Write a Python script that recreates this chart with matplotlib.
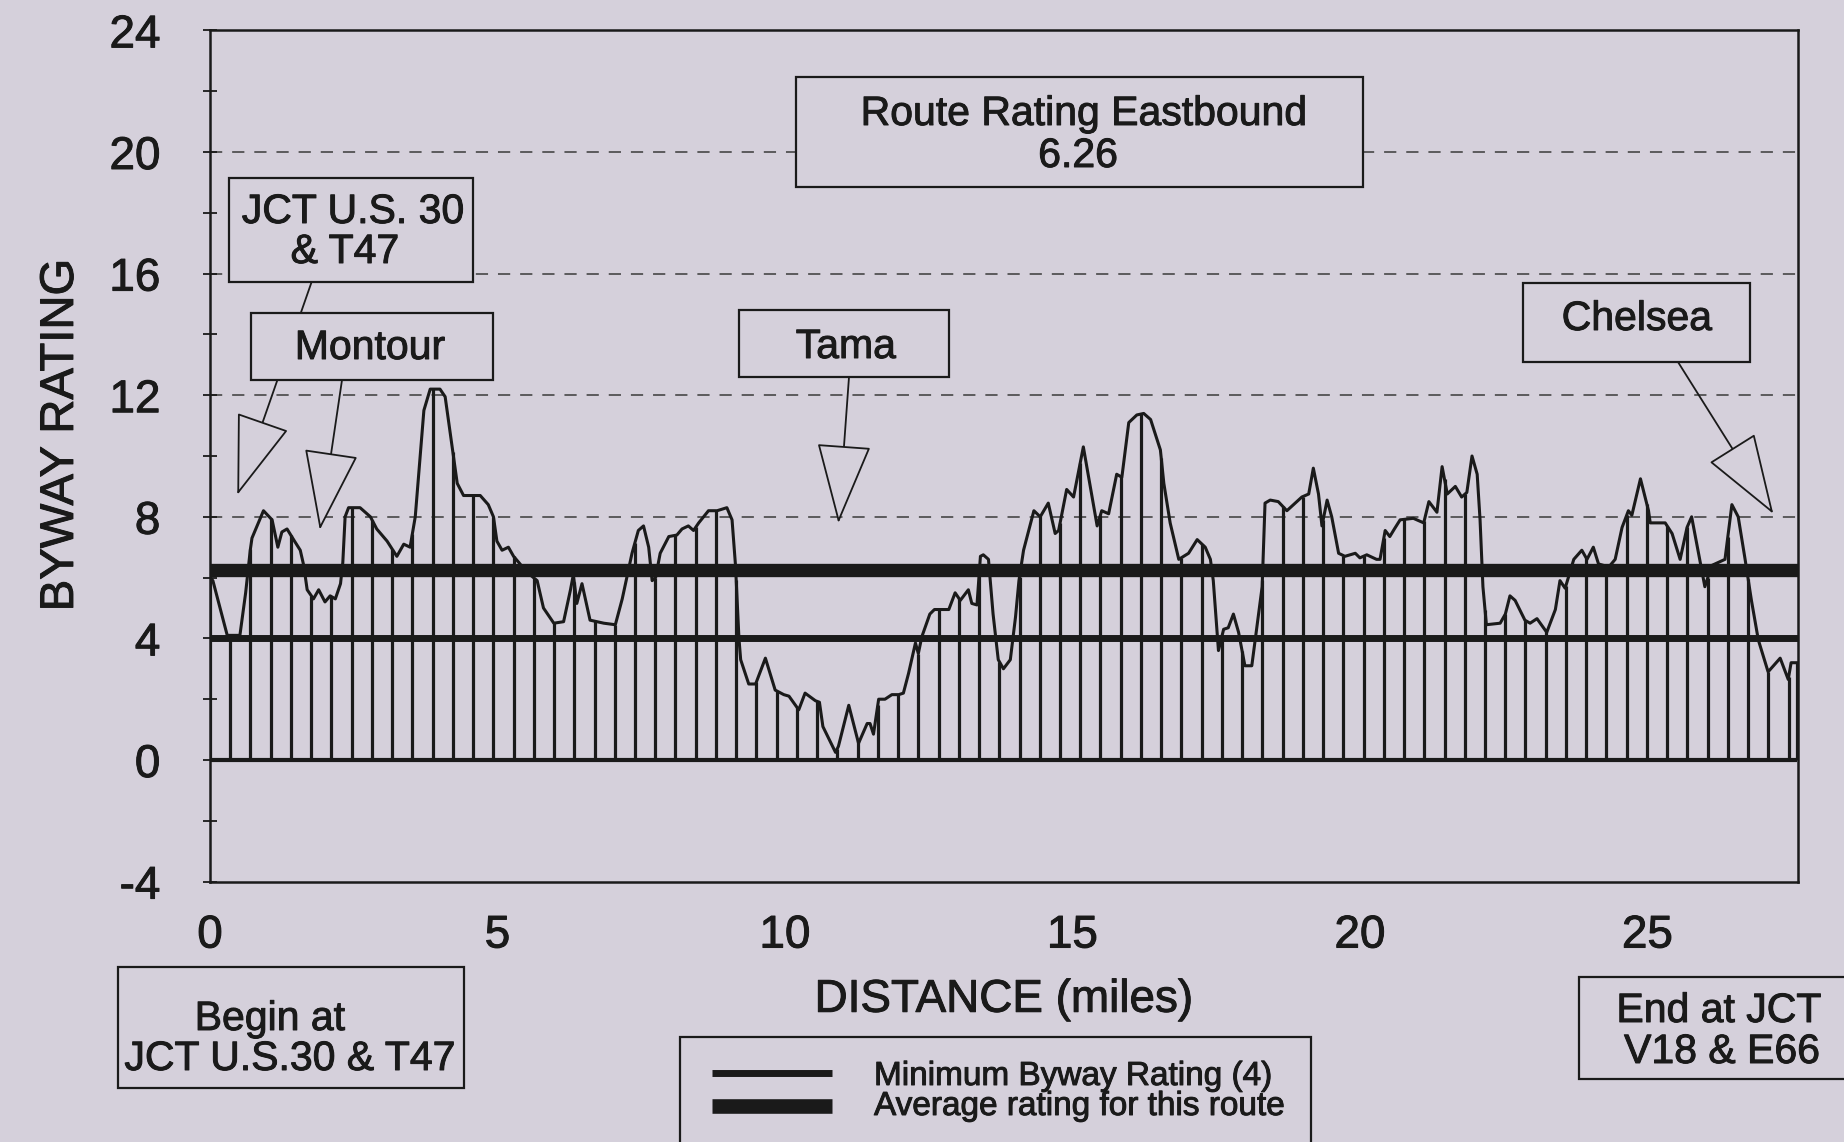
import numpy as np
import matplotlib
matplotlib.use("Agg")
import matplotlib.pyplot as plt
import matplotlib.patheffects as pe
from matplotlib.patches import Rectangle, ArrowStyle
from matplotlib.lines import Line2D

# ---------------- data ----------------
distance = [0.00, 0.05, 0.30, 0.52, 0.62, 0.70, 0.73, 0.93, 1.08, 1.18, 1.25, 1.34, 1.47, 1.57,
            1.63, 1.69, 1.80, 1.89, 2.00, 2.09, 2.18, 2.27, 2.31, 2.35, 2.41, 2.61, 2.79, 2.90,
            3.08, 3.25, 3.37, 3.48, 3.57, 3.72, 3.83, 4.00, 4.09, 4.24, 4.30, 4.41, 4.58, 4.70,
            4.84, 4.93, 4.99, 5.08, 5.19, 5.28, 5.37, 5.50, 5.69, 5.80, 5.98, 6.15, 6.27, 6.32,
            6.38, 6.47, 6.61, 6.85, 7.05, 7.17, 7.34, 7.45, 7.54, 7.63, 7.69, 7.75, 7.83, 7.98,
            8.12, 8.21, 8.32, 8.41, 8.50, 8.67, 8.82, 8.99, 9.08, 9.14, 9.20, 9.23, 9.37, 9.49,
            9.66, 9.83, 9.98, 10.07, 10.24, 10.35, 10.53, 10.60, 10.66, 10.88, 10.93, 11.11,
            11.28, 11.43, 11.48, 11.54, 11.63, 11.74, 11.86, 11.98, 12.06, 12.15, 12.27, 12.32,
            12.38, 12.52, 12.60, 12.85, 12.96, 13.05, 13.19, 13.25, 13.34, 13.40, 13.45, 13.54,
            13.62, 13.71, 13.80, 13.92, 14.01, 14.07, 14.15, 14.33, 14.44, 14.58, 14.70, 14.76,
            14.90, 15.02, 15.19, 15.30, 15.43, 15.51, 15.63, 15.77, 15.86, 15.98, 16.12, 16.24,
            16.36, 16.53, 16.59, 16.70, 16.85, 17.02, 17.17, 17.31, 17.40, 17.45, 17.54, 17.63,
            17.71, 17.80, 17.89, 18.00, 18.12, 18.21, 18.30, 18.35, 18.44, 18.58, 18.73, 18.99,
            19.11, 19.19, 19.28, 19.34, 19.43, 19.51, 19.63, 19.74, 19.92, 20.00, 20.12, 20.29,
            20.35, 20.44, 20.52, 20.60, 20.70, 20.93, 21.11, 21.20, 21.28, 21.34, 21.43, 21.52,
            21.66, 21.77, 21.86, 21.95, 22.04, 22.09, 22.14, 22.20, 22.44, 22.53, 22.61, 22.70,
            22.87, 22.96, 23.08, 23.25, 23.40, 23.48, 23.57, 23.72, 23.86, 23.95, 24.06, 24.15,
            24.33, 24.44, 24.56, 24.67, 24.73, 24.88, 25.02, 25.05, 25.31, 25.43, 25.57, 25.69,
            25.77, 25.86, 26.00, 26.12, 26.35, 26.47, 26.58, 26.70, 26.81, 26.93, 27.10, 27.31,
            27.45, 27.50, 27.60]
rating = [6.0, 5.9, 4.1, 4.1, 5.5, 6.9, 7.3, 8.2, 7.9, 7.0, 7.5, 7.6, 7.2, 6.9,
          6.4, 5.6, 5.3, 5.6, 5.2, 5.4, 5.3, 5.8, 6.5, 8.0, 8.3, 8.3, 8.0, 7.6,
          7.2, 6.7, 7.1, 7.0, 8.0, 11.5, 12.2, 12.2, 11.95, 9.9, 9.1, 8.7, 8.7, 8.7,
          8.4, 8.0, 7.2, 6.9, 7.0, 6.7, 6.5, 6.2, 5.9, 5.0, 4.5, 4.55, 5.6, 6.1,
          5.15, 5.8, 4.6, 4.5, 4.45, 5.3, 6.8, 7.55, 7.7, 7.0, 5.9, 6.0, 6.8, 7.35,
          7.4, 7.6, 7.7, 7.55, 7.8, 8.2, 8.2, 8.3, 7.9, 6.4, 4.0, 3.3, 2.5, 2.5,
          3.35, 2.3, 2.15, 2.1, 1.65, 2.2, 1.95, 1.9, 1.1, 0.25, 0.45, 1.8,
          0.55, 1.2, 1.2, 0.85, 2.0, 2.0, 2.15, 2.15, 2.2, 2.85, 3.85, 3.5,
          4.05, 4.8, 4.95, 4.95, 5.5, 5.25, 5.6, 5.15, 5.1, 6.7, 6.75, 6.6,
          4.8, 3.3, 3.0, 3.3, 4.7, 5.9, 6.9, 8.2, 8.0, 8.45, 7.45, 7.55,
          8.9, 8.65, 10.3, 9.1, 7.7, 8.2, 8.1, 9.4, 9.3, 11.1, 11.35, 11.4,
          11.2, 10.2, 9.1, 7.8, 6.6, 6.8, 7.25, 7.0, 6.6, 5.9, 3.6, 4.3,
          4.35, 4.8, 4.2, 3.1, 3.1, 4.4, 5.7, 8.45, 8.55, 8.5, 8.2, 8.65,
          8.75, 9.6, 8.75, 7.7, 8.55, 8.0, 6.8, 6.7, 6.8, 6.65, 6.75, 6.6,
          6.6, 7.55, 7.35, 7.6, 7.9, 7.95, 7.8, 8.5, 8.3, 8.15, 9.65, 8.75,
          9.0, 8.65, 8.8, 10.0, 9.4, 7.9, 5.7, 4.45, 4.5, 4.8, 5.4, 5.25,
          4.6, 4.5, 4.65, 4.2, 4.95, 5.9, 5.65, 6.6, 6.9, 6.6, 7.0, 6.45,
          6.35, 6.6, 7.65, 8.2, 8.05, 9.25, 8.2, 7.8, 7.8, 7.45, 6.6, 7.65,
          8.0, 7.1, 5.7, 6.4, 6.6, 8.4, 8.0, 6.6, 5.25, 3.95, 2.9, 3.35,
          2.65, 3.2, 3.2]
min_rating = 4
avg_rating = 6.26
x_ticks = [0, 5, 10, 15, 20, 25]
y_ticks = [-4, 0, 4, 8, 12, 16, 20, 24]
grid_levels = [8, 12, 16, 20]

# ---------------- style ----------------
W, H = 1844, 1142
BG = "#d5d0db"
INK = "#1a1a1a"
DROP_STEP = 0.352          # spacing of the vertical drop lines (miles)
plt.rcParams["font.family"] = ["Liberation Sans", "DejaVu Sans"]
plt.rcParams["axes.unicode_minus"] = False
HEAVY = [pe.withStroke(linewidth=0.7, foreground=INK)]

fig = plt.figure(figsize=(W / 100, H / 100), dpi=100, facecolor=BG)
ax_l, ax_r, ax_t, ax_b = 210, 1798, 30.4, 881.6
ax = fig.add_axes([ax_l / W, 1 - ax_b / H, (ax_r - ax_l) / W, (ax_b - ax_t) / H], facecolor=BG)
ax.set_xlim(0, 27.62)
ax.set_ylim(-4, 24)

# dashed reference levels
for g in grid_levels:
    ax.axhline(g, color="#3a3a3a", lw=1.1, ls=(0, (8, 6.5)), zorder=1)

# drop lines and profile
xs = np.append(np.arange(0, distance[-1] - 0.05, DROP_STEP), distance[-1])
ax.vlines(xs, 0, np.interp(xs, distance, rating), colors=INK, lw=2.3, zorder=3)
ax.plot(distance, rating, color=INK, lw=2.2, zorder=4, solid_joinstyle="round")
ax.plot([distance[0], distance[-1]], [0, 0], color=INK, lw=3, zorder=3, solid_capstyle="butt")

# minimum and average lines
ax.axhline(min_rating, color=INK, lw=5, zorder=5)
ax.axhline(avg_rating, color=INK, lw=9.6, zorder=5)

# axes styling
for s in ax.spines.values():
    s.set_color(INK)
    s.set_linewidth(1.8)
ax.set_xticks(x_ticks)
ax.set_yticks(y_ticks)
ax.set_yticks(np.arange(-4, 25, 2), minor=True)
ax.tick_params(axis="y", which="both", direction="inout", length=9.5, width=1.3,
               colors=INK, labelsize=33, pad=31)
ax.tick_params(axis="x", which="both", length=0, labelsize=33, pad=23, colors=INK)
for lab in ax.get_xticklabels() + ax.get_yticklabels():
    lab.set_path_effects(HEAVY)
ax.set_xlabel("DISTANCE (miles)", fontsize=33, color=INK, path_effects=HEAVY)
ax.xaxis.set_label_coords(0.5, -0.113)
ax.set_ylabel("BYWAY RATING", fontsize=34, color=INK, path_effects=HEAVY)
ax.yaxis.set_label_coords(-0.080, 0.5247)


def fx(px):
    return px / W


def fy(py):
    return 1 - py / H


# arrows (tip in data coordinates, start at box edges in figure pixels)
arrow_style = ArrowStyle("-|>", head_length=0.53, head_width=0.18)
arrows = [((0.475, 8.72), (311.6, 282)),
          ((1.91, 7.57), (342, 380)),
          ((10.93, 7.79), (849, 377)),
          ((27.19, 8.1), (1678, 362))]
for tip, start in arrows:
    ax.annotate("", xy=tip, xycoords="data",
                xytext=(start[0], H - start[1]), textcoords="figure pixels",
                arrowprops=dict(arrowstyle=arrow_style, mutation_scale=100,
                                fc=BG, ec=INK, lw=1.3, shrinkA=0, shrinkB=0),
                zorder=6)


def px_box(x0, y0, x1, y1):
    fig.add_artist(Rectangle((fx(x0), fy(y1)), (x1 - x0) / W, (y1 - y0) / H,
                             transform=fig.transFigure, facecolor=BG, edgecolor=INK,
                             lw=1.6, zorder=6))


def px_text(x, y, s, size=29.5, ha="center"):
    fig.text(fx(x), fy(y), s, ha=ha, va="baseline", fontsize=size, color=INK, zorder=7,
             path_effects=HEAVY)


px_box(796, 77, 1363, 187)
px_text(1084, 125, "Route Rating Eastbound")
px_text(1078, 167, "6.26")

px_box(229, 178, 473, 282)
px_text(353, 223, "JCT U.S. 30")
px_text(345, 263, "& T47")

px_box(251, 313, 493, 380)
px_text(370, 359, "Montour")

px_box(739, 310, 949, 377)
px_text(846, 358, "Tama")

px_box(1523, 283, 1750, 362)
px_text(1637, 330, "Chelsea")

px_box(118, 967, 464, 1088)
px_text(270, 1030, "Begin at")
px_text(290, 1070, "JCT U.S.30 & T47")

px_box(1579, 977, 1870, 1079)
px_text(1719, 1022, "End at JCT")
px_text(1722, 1063, "V18 & E66")

# legend
px_box(680, 1037, 1311, 1160)
fig.add_artist(Line2D([fx(712), fx(832)], [fy(1073), fy(1073)], transform=fig.transFigure,
                      color=INK, lw=5, solid_capstyle="butt", zorder=7))
fig.add_artist(Line2D([fx(712), fx(832)], [fy(1106), fy(1106)], transform=fig.transFigure,
                      color=INK, lw=10.5, solid_capstyle="butt", zorder=7))
px_text(874, 1085, "Minimum Byway Rating (4)", size=24, ha="left")
px_text(874, 1115, "Average rating for this route", size=24, ha="left")

fig.savefig("out.png", dpi=100, facecolor=BG)
